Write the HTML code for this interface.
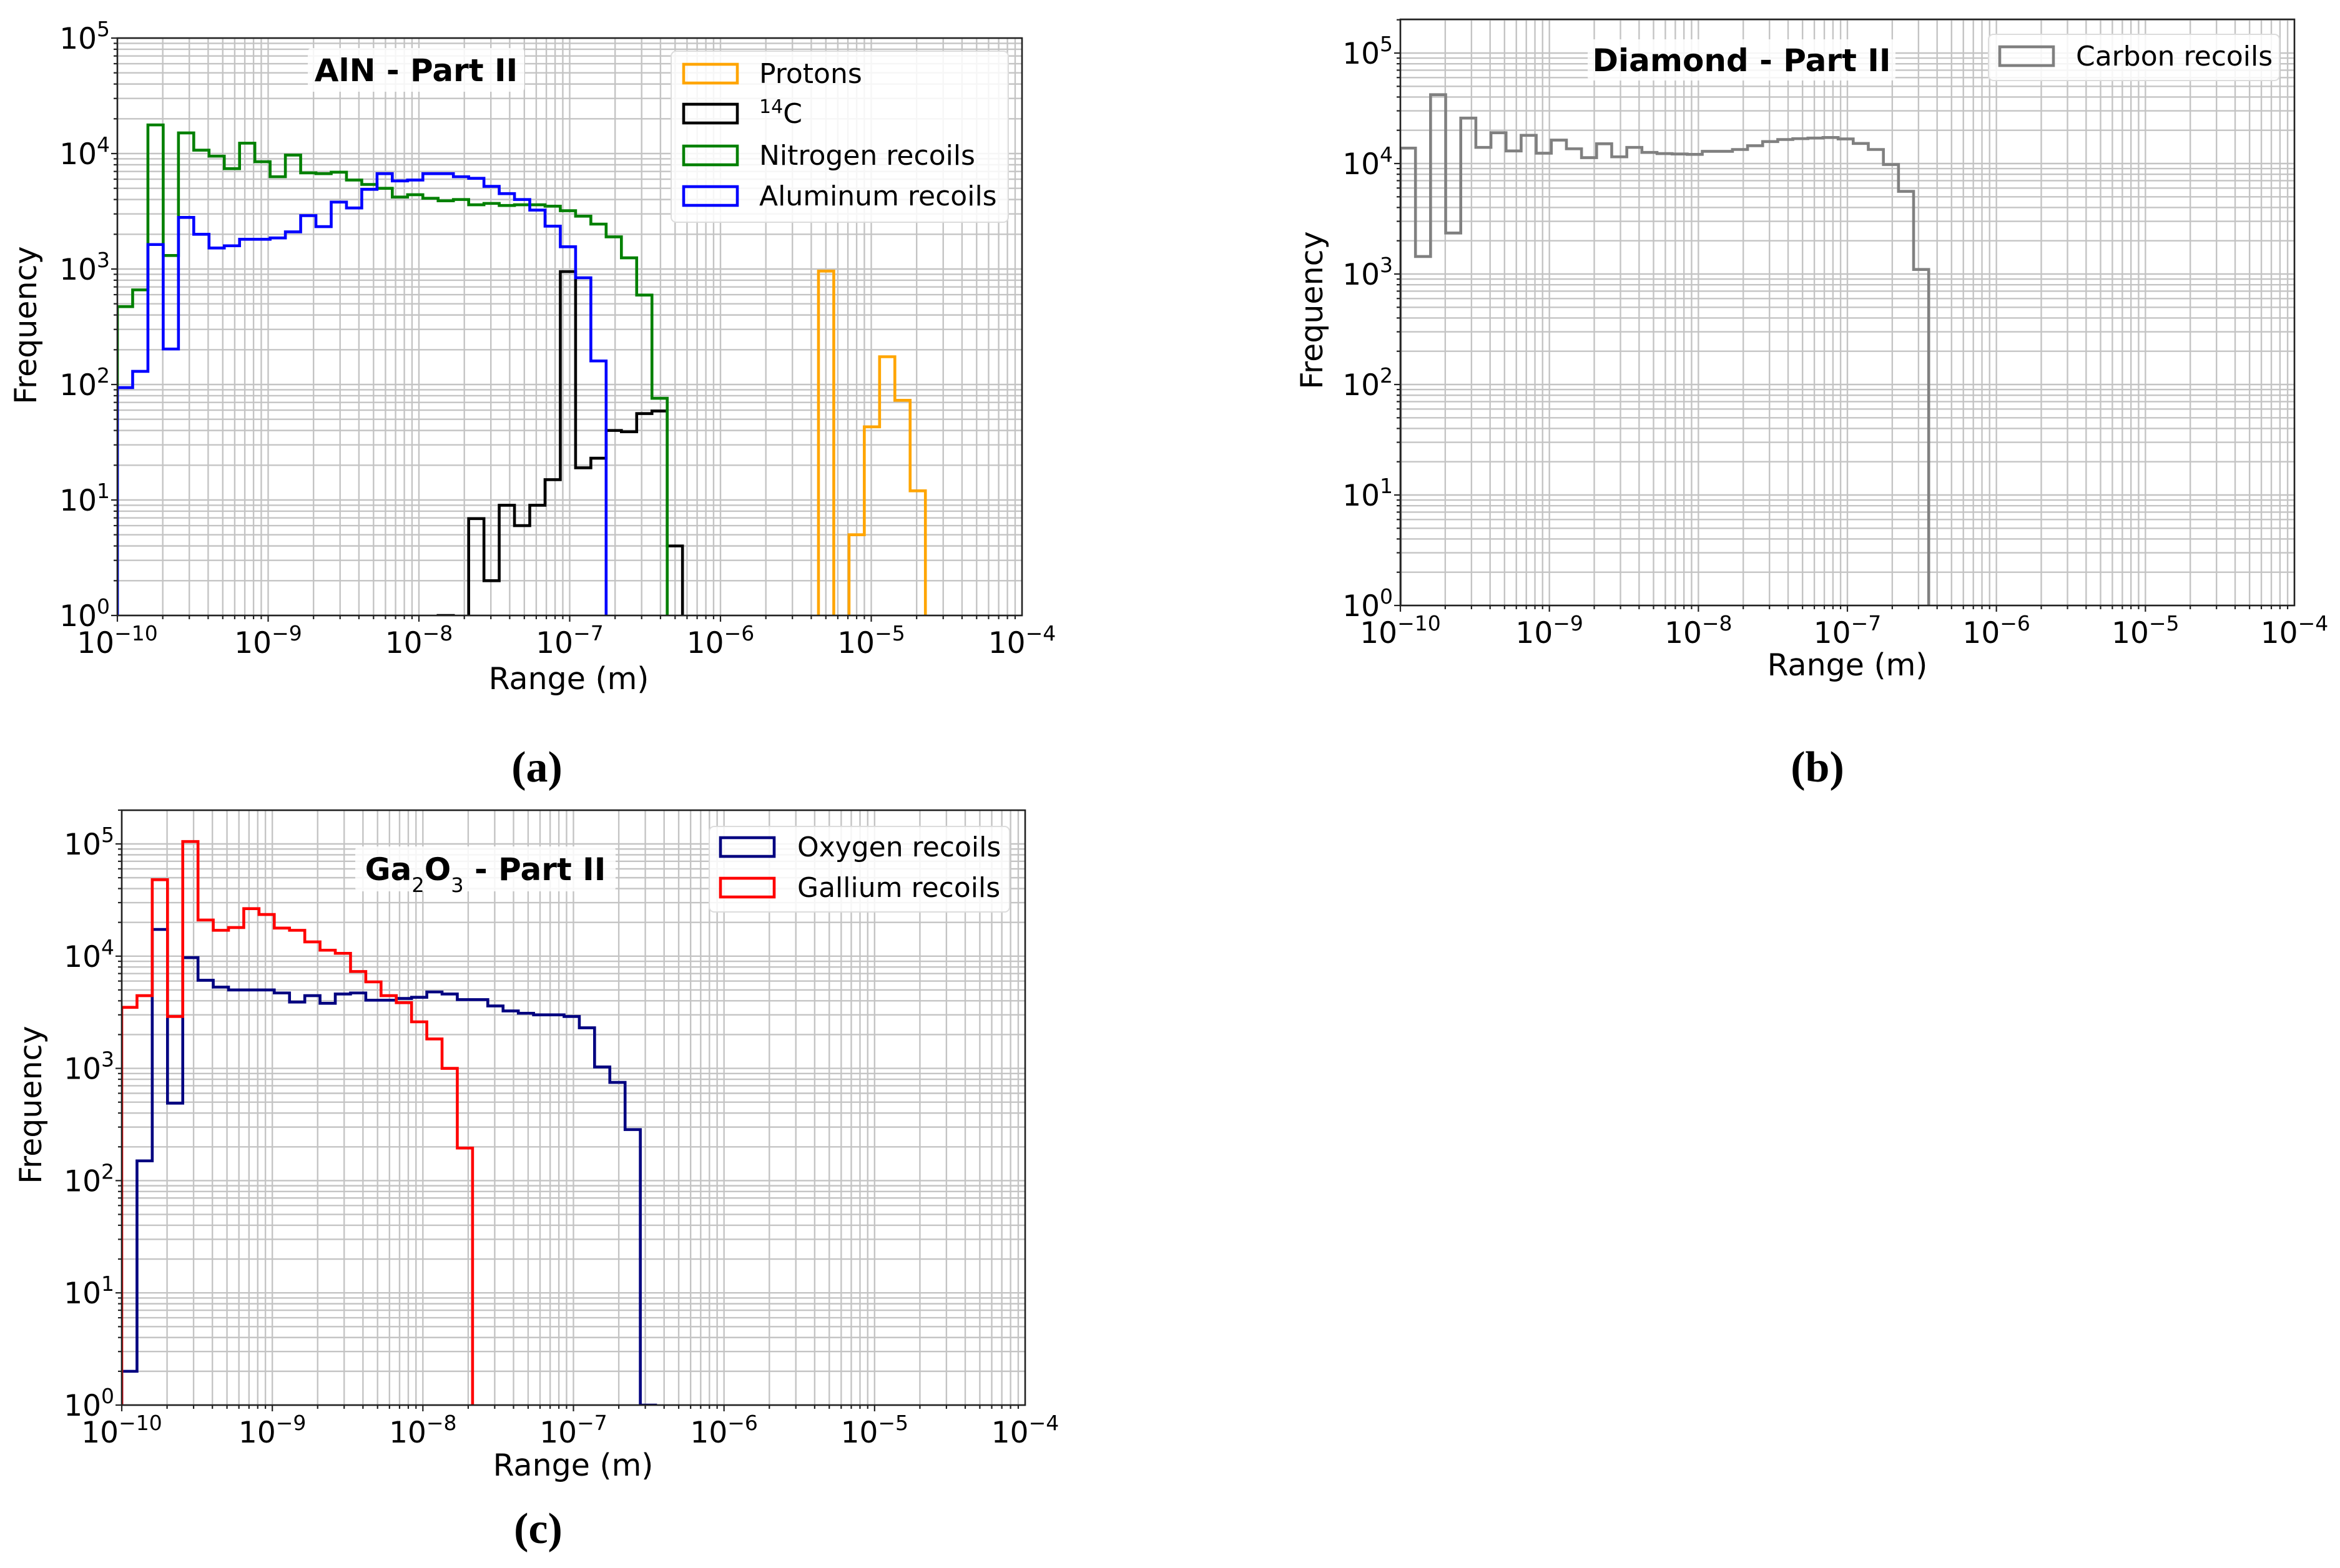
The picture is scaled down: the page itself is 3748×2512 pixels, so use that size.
<!DOCTYPE html>
<html><head><meta charset="utf-8"><style>
html,body{margin:0;padding:0;background:#fff;}
svg{display:block;font-family:"DejaVu Sans","Liberation Sans",sans-serif;}
</style></head>
<body>
<svg id="fig" width="3748" height="2512" viewBox="0 0 3748 2512" xmlns="http://www.w3.org/2000/svg"></svg>
<script>
// ---------- DATA ----------
const xTickExps = [-10, -9, -8, -7, -6, -5, -4];
const yTickExps = [0, 1, 2, 3, 4, 5];
const binWidth = 0.1013;
// Panel (a) AlN
const aProtonsStart = -5.35;
const aProtons = [960, 0, 5, 43, 174, 73, 12];
const aCarbon14Start = -10;
const aCarbon14 = [0,0,0,0,0,0,0,0,0,0,0,0,0,0,0,0,0,0,0,0,0,1,0,6.9,2,9,6,9,15,950,19,23,40,39,56,59,4];
const aNitrogenStart = -10;
const aNitrogen = [473,660,17700,1310,15100,10700,9500,7400,12300,8500,6300,9700,6800,6700,6900,5900,5400,5000,4200,4400,4100,3900,4000,3600,3700,3550,3600,3600,3500,3200,2870,2450,1900,1250,595,76];
const aAluminumStart = -10;
const aAluminum = [94,130,1630,203,2800,2000,1520,1590,1810,1810,1860,2100,2900,2330,3800,3380,4900,6700,5800,5900,6700,6700,6300,6100,5200,4500,4000,3240,2350,1560,840,160];
// Panel (b) Diamond
const bCarbonStart = -10;
const bCarbon = [13800,1440,42000,2350,25800,14000,19000,13000,18000,12400,16300,13600,11300,15100,11500,14000,12600,12300,12200,12100,12900,12900,13400,14500,15800,16500,16800,17000,17200,16700,15200,13400,9800,5600,1100];
// Panel (c) Ga2O3
const cOxygenStart = -10;
const cOxygen = [2,150,17300,490,9700,6100,5300,5000,5000,5000,4700,3900,4450,3800,4600,4700,4050,4050,4200,4300,4800,4600,4100,4100,3600,3250,3100,3000,3000,2900,2300,1030,750,285,1];
const cGalliumStart = -10;
const cGallium = [3500,4450,48000,2900,105000,21000,17000,18000,26500,23500,17800,17000,13400,11300,10600,7300,5900,4450,3850,2600,1830,1000,195];

// ---------- DRAW ----------
const NS = "http://www.w3.org/2000/svg";
const fig = document.getElementById('fig');
function mk(tag, attrs, parent){
  const e = document.createElementNS(NS, tag);
  for (const k in attrs) e.setAttribute(k, attrs[k]);
  (parent || fig).appendChild(e);
  return e;
}
function supText(parent, x, y, base, exp, anchor, size){
  const t = mk('text', {x:x, y:y, 'text-anchor':anchor, 'font-size':size, fill:'#000'}, parent);
  
  
  const a = mk('tspan', {}, t); a.textContent = base;
  const b = mk('tspan', {'font-size': Math.round(size*0.7), dy: -Math.round(size*0.42)}, t); b.textContent = exp;
  return t;
}
function fmtExp(e){ return e < 0 ? '\u2212' + (-e) : String(e); }

function makePanel(P){
  const g = mk('g', {});
  
  
  const xS = e => P.left + (e + 10) * (P.right - P.left) / 6;
  const yS = l => P.y0 - l * P.dec;
  const clipId = P.name + '-clip';
  const cp = mk('clipPath', {id: clipId}, g);
  mk('rect', {x:P.left, y:P.top, width:P.right-P.left, height:P.y0-P.top}, cp);
  const grid = mk('g', {stroke:'#c4c4c4', 'stroke-width':2.4}, g);
  
  
  for (let d = -10; d <= -4; d++){
    for (let k = 1; k <= 9; k++){
      const e = d + Math.log10(k);
      if (e > -4.0001) continue;
      const x = xS(e);
      mk('line', {x1:x, x2:x, y1:P.top, y2:P.y0}, grid);
    }
  }
  const topLog = (P.y0 - P.top) / P.dec;
  for (let d = 0; d <= 5; d++){
    for (let k = 1; k <= 9; k++){
      const l = d + Math.log10(k);
      if (l > topLog + 0.001) continue;
      const y = yS(l);
      mk('line', {x1:P.left, x2:P.right, y1:y, y2:y}, grid);
    }
  }
  const sg = mk('g', {'clip-path':'url(#'+clipId+')', fill:'none', 'stroke-width':4.6, 'stroke-linejoin':'miter'}, g);
  P.series.forEach(s => {
    const vy = v => v > 0 ? yS(Math.log10(v)) : P.y0 + 30;
    let d = 'M' + xS(s.start) + ' ' + (P.y0 + 30);
    s.values.forEach((v, i) => {
      const x0 = xS(s.start + i * binWidth), x1 = xS(s.start + (i + 1) * binWidth);
      d += ' L' + x0 + ' ' + vy(v) + ' L' + x1 + ' ' + vy(v);
    });
    d += ' L' + xS(s.start + s.values.length * binWidth) + ' ' + (P.y0 + 30);
    const p = mk('path', {d:d, stroke:s.color}, sg);
    
    
  });
  const fr = mk('rect', {x:P.left, y:P.top, width:P.right-P.left, height:P.y0-P.top, fill:'none', stroke:'#222', 'stroke-width':2.6}, g);
  
  
  const tk = mk('g', {stroke:'#222', 'stroke-width':2.2}, g);
  for (let d = -10; d <= -4; d++){
    for (let k = 1; k <= 9; k++){
      const e = d + Math.log10(k);
      if (e > -4.0001) continue;
      const x = xS(e);
      mk('line', {x1:x, x2:x, y1:P.y0, y2:P.y0 + (k === 1 ? 10 : 6)}, tk);
    }
  }
  for (let d = 0; d <= 5; d++){
    for (let k = 1; k <= 9; k++){
      const l = d + Math.log10(k);
      if (l > topLog + 0.001) continue;
      const y = yS(l);
      mk('line', {x1:P.left, x2:P.left - (k === 1 ? 10 : 6), y1:y, y2:y}, tk);
    }
  }
  xTickExps.forEach(e => supText(g, xS(e), P.y0 + 60, '10', fmtExp(e), 'middle', 47));
  yTickExps.forEach(e => supText(g, P.left - 12, yS(e) + 17, '10', fmtExp(e), 'end', 47));
  const xl = mk('text', {x:P.xlab[0], y:P.xlab[1], 'text-anchor':'middle', 'font-size':49}, g);
  xl.textContent = 'Range (m)';
  
  
  const yl = mk('text', {x:0, y:0, 'text-anchor':'middle', 'font-size':49, transform:'translate('+P.ylab[0]+','+P.ylab[1]+') rotate(-90)'}, g);
  yl.textContent = 'Frequency';
  
  
  const tb = mk('rect', {x:P.tbox[0], y:P.tbox[1], width:P.tbox[2], height:P.tbox[3], fill:'#fff', 'fill-opacity':0.85, rx:6}, g);
  
  
  const tt = mk('text', {x:P.tbox[0] + P.tbox[2]/2, y:P.tbox[1] + P.tbox[3]/2 + 18, 'text-anchor':'middle', 'font-size':50, 'font-weight':'bold'}, g);
  
  
  P.title.forEach(part => {
    const ts = mk('tspan', part.sub ? {'font-size':32, 'font-weight':'normal', 'baseline-shift':'sub'} : {}, tt);
    ts.textContent = part.t;
  });
  const L = P.legend;
  const lb = mk('rect', {x:L.box[0], y:L.box[1], width:L.box[2], height:L.box[3], fill:'#fff', 'fill-opacity':0.85, stroke:'#dcdcdc', 'stroke-width':2, rx:8}, g);
  
  
  L.entries.forEach((en, i) => {
    const cy = L.y[i];
    const r = mk('rect', {x:L.px, y:cy - 15, width:86, height:30, fill:'none', stroke:en.color, 'stroke-width':4.6}, g);
    
    
    const t = mk('text', {x:L.tx, y:cy + 15, 'font-size':44}, g);
    
    
    if (en.sup){
      const s1 = mk('tspan', {'font-size':30, dy:-16}, t); s1.textContent = en.sup;
      const s2 = mk('tspan', {dy:16}, t); s2.textContent = en.label;
    } else t.textContent = en.label;
  });
  const cap = mk('text', {x:P.cap[0], y:P.cap[1], 'text-anchor':'middle', 'font-size':70, 'font-family':'"Liberation Serif", serif', 'font-weight':'bold'}, g);
  cap.textContent = P.cap[2];
  
  
}

makePanel({
  name:'panel-a-aln', left:188, right:1637, y0:986, dec:185, top:61,
  xlab:[911, 1104], ylab:[58, 521],
  tbox:[493, 77, 347, 70], title:[{t:'AlN - Part II'}],
  legend:{box:[1075, 82, 540, 274], px:1095, tx:1216, y:[118, 182, 249, 314],
    entries:[{color:'#ffa500', label:'Protons'}, {color:'#000', sup:'14', label:'C'}, {color:'#008000', label:'Nitrogen recoils'}, {color:'#0000ff', label:'Aluminum recoils'}]},
  cap:[860, 1252, '(a)'],
  series:[
    {id:'protons', color:'#ffa500', start:aProtonsStart, values:aProtons},
    {id:'carbon-14', color:'#000000', start:aCarbon14Start, values:aCarbon14},
    {id:'nitrogen-recoils', color:'#008000', start:aNitrogenStart, values:aNitrogen},
    {id:'aluminum-recoils', color:'#0000ff', start:aAluminumStart, values:aAluminum}
  ]
});
makePanel({
  name:'panel-b-diamond', left:2243, right:3675, y0:970, dec:177, top:31,
  xlab:[2959, 1082], ylab:[2118, 497],
  tbox:[2543, 63, 493, 66], title:[{t:'Diamond - Part II'}],
  legend:{box:[3185, 55, 466, 74], px:3203, tx:3325, y:[90],
    entries:[{color:'#808080', label:'Carbon recoils'}]},
  cap:[2911, 1252, '(b)'],
  series:[{id:'carbon-recoils', color:'#808080', start:bCarbonStart, values:bCarbon}]
});
makePanel({
  name:'panel-c-ga2o3', left:195, right:1642, y0:2251, dec:179.8, top:1298,
  xlab:[918, 2364], ylab:[66, 1770],
  tbox:[569, 1356, 417, 72], title:[{t:'Ga'}, {t:'2', sub:true}, {t:'O'}, {t:'3', sub:true}, {t:' - Part II'}],
  legend:{box:[1136, 1324, 481, 137], px:1154, tx:1277, y:[1357, 1422],
    entries:[{color:'#000080', label:'Oxygen recoils'}, {color:'#ff0000', label:'Gallium recoils'}]},
  cap:[862, 2472, '(c)'],
  series:[
    {id:'oxygen-recoils', color:'#000080', start:cOxygenStart, values:cOxygen},
    {id:'gallium-recoils', color:'#ff0000', start:cGalliumStart, values:cGallium}
  ]
});
</script>
</body></html>
